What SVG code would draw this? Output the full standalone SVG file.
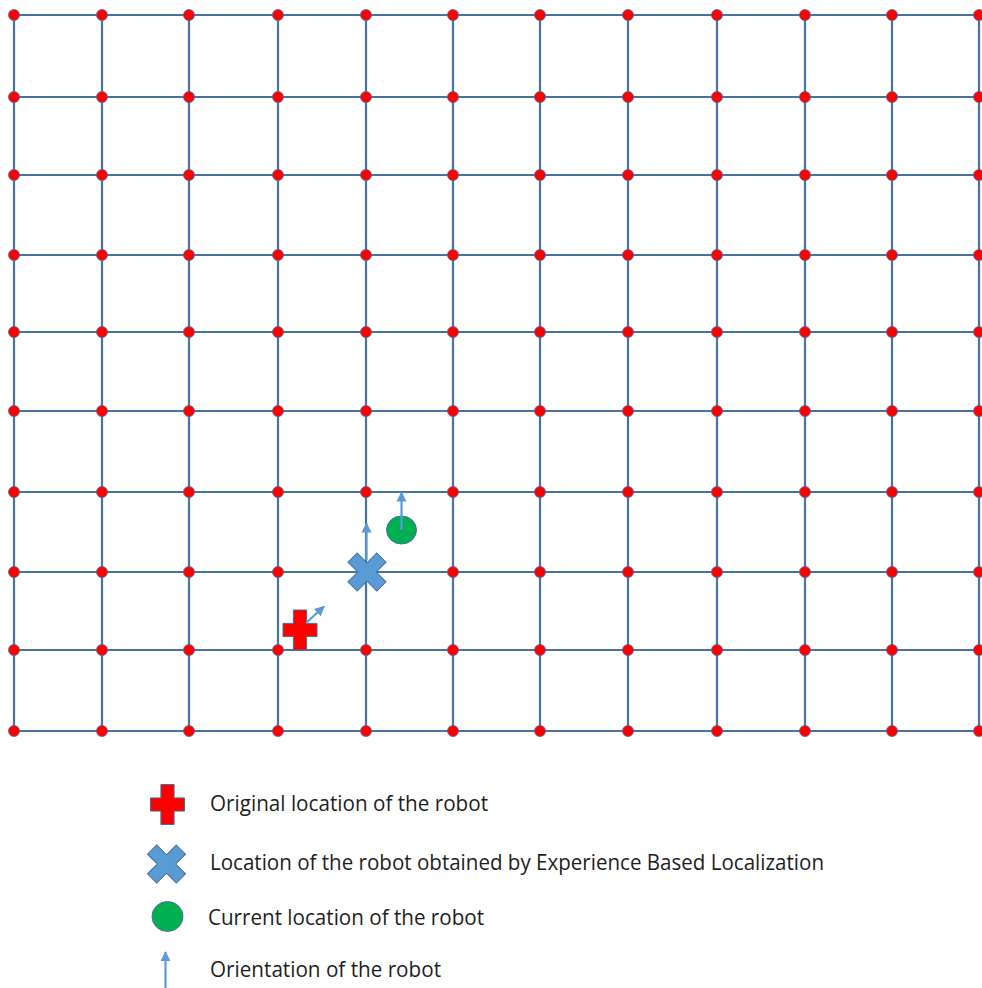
<svg xmlns="http://www.w3.org/2000/svg" xmlns:xlink="http://www.w3.org/1999/xlink" width="982" height="988" viewBox="0 0 982 988">
<style>
.gl{stroke:#4672A4;stroke-width:2.2;fill:none}
.dot{fill:#FF0000;stroke:#41719C;stroke-width:0.8}
.arr{stroke:#5B9BD5;stroke-width:2.2;fill:none}
.lbl{font-family:"Open Sans","Liberation Sans",sans-serif;font-size:21px;fill:#1e1e1e}
.cross{fill:#FF0000;stroke:#41719C;stroke-width:1}
.xm{fill:#5B9BD5;stroke:#41719C;stroke-width:1}
.cur{fill:#00B050;stroke:#41719C;stroke-width:1}
</style>
<defs>
<marker id="ah" viewBox="0 0 10 10" refX="9" refY="5" markerWidth="4.6" markerHeight="4.6" orient="auto" markerUnits="strokeWidth">
<path d="M0,0 L10,5 L0,10 z" fill="#5B9BD5"/>
</marker>
<circle id="d" class="dot" r="5.5"/>
<polygon id="plus" class="cross" points="-6.6,-20 6.6,-20 6.6,-6.6 17,-6.6 17,6.6 6.6,6.6 6.6,20 -6.6,20 -6.6,6.6 -17,6.6 -17,-6.6 -6.6,-6.6"/>
<polygon id="times" class="xm" transform="rotate(45)" points="-6.5,-20.4 6.5,-20.4 6.5,-6.5 20.4,-6.5 20.4,6.5 6.5,6.5 6.5,20.4 -6.5,20.4 -6.5,6.5 -20.4,6.5 -20.4,-6.5 -6.5,-6.5"/>
</defs>
<rect width="982" height="988" fill="#FFFFFF"/>
<g id="connectors">
<path class="gl" d="M12,15H982M12,97H982M12,175H982M12,255H982M12,332H982M12,411H982M12,492H982M12,572H982M12,650H982M12,731H982"/>
<path class="gl" d="M14,14V732M102,14V732M189,14V732M278,14V732M366,14V732M453,14V732M540,14V732M628,14V732M717,14V732M805,14V732M892,14V732M979,14V732"/>
</g>
<g id="grid-nodes">
<g id="row1"><use href="#d" x="14" y="15"/><use href="#d" x="102" y="15"/><use href="#d" x="189" y="15"/><use href="#d" x="278" y="15"/><use href="#d" x="366" y="15"/><use href="#d" x="453" y="15"/><use href="#d" x="540" y="15"/><use href="#d" x="628" y="15"/><use href="#d" x="717" y="15"/><use href="#d" x="805" y="15"/><use href="#d" x="892" y="15"/><use href="#d" x="979" y="15"/></g>
<g id="row2"><use href="#d" x="14" y="97"/><use href="#d" x="102" y="97"/><use href="#d" x="189" y="97"/><use href="#d" x="278" y="97"/><use href="#d" x="366" y="97"/><use href="#d" x="453" y="97"/><use href="#d" x="540" y="97"/><use href="#d" x="628" y="97"/><use href="#d" x="717" y="97"/><use href="#d" x="805" y="97"/><use href="#d" x="892" y="97"/><use href="#d" x="979" y="97"/></g>
<g id="row3"><use href="#d" x="14" y="175"/><use href="#d" x="102" y="175"/><use href="#d" x="189" y="175"/><use href="#d" x="278" y="175"/><use href="#d" x="366" y="175"/><use href="#d" x="453" y="175"/><use href="#d" x="540" y="175"/><use href="#d" x="628" y="175"/><use href="#d" x="717" y="175"/><use href="#d" x="805" y="175"/><use href="#d" x="892" y="175"/><use href="#d" x="979" y="175"/></g>
<g id="row4"><use href="#d" x="14" y="255"/><use href="#d" x="102" y="255"/><use href="#d" x="189" y="255"/><use href="#d" x="278" y="255"/><use href="#d" x="366" y="255"/><use href="#d" x="453" y="255"/><use href="#d" x="540" y="255"/><use href="#d" x="628" y="255"/><use href="#d" x="717" y="255"/><use href="#d" x="805" y="255"/><use href="#d" x="892" y="255"/><use href="#d" x="979" y="255"/></g>
<g id="row5"><use href="#d" x="14" y="332"/><use href="#d" x="102" y="332"/><use href="#d" x="189" y="332"/><use href="#d" x="278" y="332"/><use href="#d" x="366" y="332"/><use href="#d" x="453" y="332"/><use href="#d" x="540" y="332"/><use href="#d" x="628" y="332"/><use href="#d" x="717" y="332"/><use href="#d" x="805" y="332"/><use href="#d" x="892" y="332"/><use href="#d" x="979" y="332"/></g>
<g id="row6"><use href="#d" x="14" y="411"/><use href="#d" x="102" y="411"/><use href="#d" x="189" y="411"/><use href="#d" x="278" y="411"/><use href="#d" x="366" y="411"/><use href="#d" x="453" y="411"/><use href="#d" x="540" y="411"/><use href="#d" x="628" y="411"/><use href="#d" x="717" y="411"/><use href="#d" x="805" y="411"/><use href="#d" x="892" y="411"/><use href="#d" x="979" y="411"/></g>
<g id="row7"><use href="#d" x="14" y="492"/><use href="#d" x="102" y="492"/><use href="#d" x="189" y="492"/><use href="#d" x="278" y="492"/><use href="#d" x="366" y="492"/><use href="#d" x="453" y="492"/><use href="#d" x="540" y="492"/><use href="#d" x="628" y="492"/><use href="#d" x="717" y="492"/><use href="#d" x="805" y="492"/><use href="#d" x="892" y="492"/><use href="#d" x="979" y="492"/></g>
<g id="row8"><use href="#d" x="14" y="572"/><use href="#d" x="102" y="572"/><use href="#d" x="189" y="572"/><use href="#d" x="278" y="572"/><use href="#d" x="453" y="572"/><use href="#d" x="540" y="572"/><use href="#d" x="628" y="572"/><use href="#d" x="717" y="572"/><use href="#d" x="805" y="572"/><use href="#d" x="892" y="572"/><use href="#d" x="979" y="572"/></g>
<g id="row9"><use href="#d" x="14" y="650"/><use href="#d" x="102" y="650"/><use href="#d" x="189" y="650"/><use href="#d" x="278" y="650"/><use href="#d" x="366" y="650"/><use href="#d" x="453" y="650"/><use href="#d" x="540" y="650"/><use href="#d" x="628" y="650"/><use href="#d" x="717" y="650"/><use href="#d" x="805" y="650"/><use href="#d" x="892" y="650"/><use href="#d" x="979" y="650"/></g>
<g id="row10"><use href="#d" x="14" y="731"/><use href="#d" x="102" y="731"/><use href="#d" x="189" y="731"/><use href="#d" x="278" y="731"/><use href="#d" x="366" y="731"/><use href="#d" x="453" y="731"/><use href="#d" x="540" y="731"/><use href="#d" x="628" y="731"/><use href="#d" x="717" y="731"/><use href="#d" x="805" y="731"/><use href="#d" x="892" y="731"/><use href="#d" x="979" y="731"/></g>
</g>
<g id="robot-original">
<use href="#plus" x="300" y="630"/>
<line class="arr" x1="306" y1="623" x2="324" y2="606.5" marker-end="url(#ah)"/>
</g>
<g id="robot-ebl">
<line class="arr" x1="366.5" y1="560" x2="366.5" y2="523.5" marker-end="url(#ah)"/>
<g transform="translate(367,572)"><use href="#times"/></g>
</g>
<g id="robot-current">
<ellipse class="cur" cx="401.5" cy="530" rx="15" ry="14"/>
<line class="arr" x1="401.5" y1="530" x2="401.5" y2="492.5" marker-end="url(#ah)"/>
</g>
<g id="legend">
<g id="legend-original"><use href="#plus" x="167.5" y="804.5"/><text class="lbl" x="210" y="811" textLength="278" lengthAdjust="spacingAndGlyphs">Original location of the robot</text></g>
<g id="legend-ebl"><g transform="translate(166.5,864)"><use href="#times"/></g><text class="lbl" x="210" y="870" textLength="614" lengthAdjust="spacingAndGlyphs">Location of the robot obtained by Experience Based Localization</text></g>
<g id="legend-current"><ellipse class="cur" cx="167.5" cy="916.5" rx="15.5" ry="15"/><text class="lbl" x="208" y="925" textLength="276" lengthAdjust="spacingAndGlyphs">Current location of the robot</text></g>
<g id="legend-orientation"><line class="arr" x1="165.5" y1="990" x2="165.5" y2="952" marker-end="url(#ah)"/><text class="lbl" x="210" y="977" textLength="231" lengthAdjust="spacingAndGlyphs">Orientation of the robot</text></g>
</g>
</svg>
